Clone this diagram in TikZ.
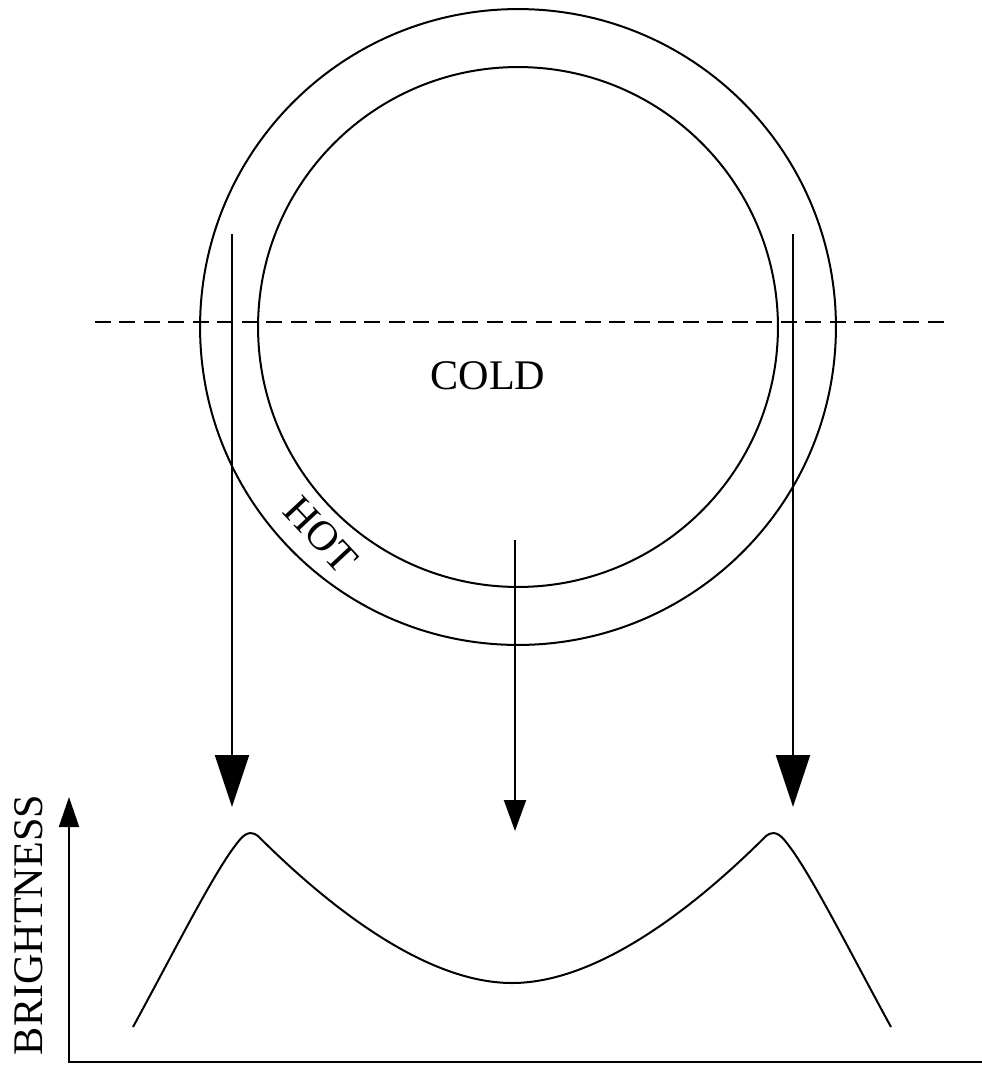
\documentclass[tikz,border=0pt]{standalone}
\usepackage{fontspec}
\setmainfont{Liberation Serif}
\usetikzlibrary{arrows.meta}

\begin{document}
\begin{tikzpicture}[x=0.02cm, y=-0.02cm, line width=0.04cm,
  lbl/.style={font=\fontsize{24}{28}\selectfont, inner sep=0pt},
  bigarr/.style={-{Triangle[length=1.04cm, width=0.68cm]}},
  smallarr/.style={-{Triangle[length=0.62cm, width=0.44cm]}},
  axisarr/.style={-{Triangle[length=0.6cm, width=0.4cm]}},
  cut/.style={dash pattern=on 0.32cm off 0.17cm}]
\useasboundingbox (0,0) rectangle (982,1066);
% rings
\coordinate (c) at (518,327);
\draw (c) circle[radius=6.36cm];
\draw (c) circle[radius=5.2cm];
\coordinate (dl) at (95,322); \coordinate (dr) at (948,322);
\draw[cut] (dl) -- (dr);
\node[lbl] (cold) at (488,376) {COLD};
\node[lbl, rotate=-47] (hot) at (321,535) {HOT};
% lines of sight
\coordinate (ls) at (232,234); \coordinate (le) at (232,807);
\coordinate (ms) at (515,540); \coordinate (me) at (515,831);
\coordinate (rs) at (793,234); \coordinate (re) at (793,807);
\draw[bigarr] (ls) -- (le);
\draw[smallarr] (ms) -- (me);
\draw[bigarr] (rs) -- (re);
% profile
\coordinate (o) at (69,1062); \coordinate (yt) at (69,797); \coordinate (xe) at (982,1062);
\draw[axisarr] (xe) -- (o) -- (yt);
\node[lbl, rotate=90] (bright) at (29,925) {BRIGHTNESS};
\draw (133,1027) .. controls (175,950) and (215,870) .. (238,842)
  .. controls (244,834) and (250,830) .. (258,836)
  .. controls (318,896) and (420,983) .. (512,983)
  .. controls (604,983) and (706,896) .. (766,836)
  .. controls (774,830) and (780,834) .. (786,842)
  .. controls (809,870) and (849,950) .. (891,1027);
\end{tikzpicture}
\end{document}
